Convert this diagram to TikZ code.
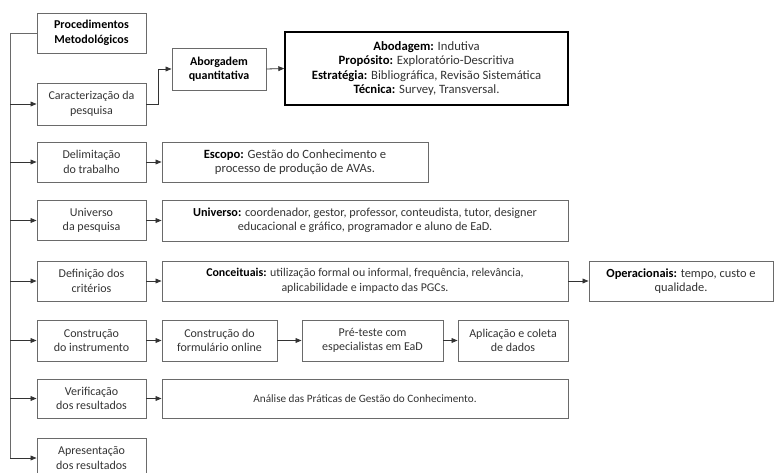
\documentclass[tikz,border=0pt]{standalone}
\usepackage{fontspec}
\setmainfont{Carlito}
\usetikzlibrary{arrows.meta}
\definecolor{boxgray}{HTML}{6A6A6A}
\definecolor{txtgray}{HTML}{333333}
\begin{document}
\begin{tikzpicture}[x=1pt,y=-1pt,
  box/.style={draw=boxgray,line width=0.9pt,rectangle,align=center,
    inner sep=0pt,text=txtgray,font=\fontsize{12}{14.5}\selectfont},
  mainbox/.style={box,draw=black,line width=1.4pt,font=\fontsize{12.7}{14.3}\selectfont},
  link/.style={draw=black!80,line width=0.8pt},
  spinelink/.style={draw=boxgray,line width=0.9pt},
  arr/.style={link,-{Triangle[length=6pt,width=4.8pt]}}]
\useasboundingbox (0,0) rectangle (775,473);
% left column
\node[box,minimum width=109pt,minimum height=40pt] (proc) at (91.5,33)
  {\bfseries\color{black}Procedimentos\\\bfseries\color{black}Metodológicos};
\node[box,minimum width=109pt,minimum height=42pt] (carac) at (91.5,104)
  {Caracterização da\\pesquisa};
\node[box,minimum width=109pt,minimum height=40pt] (delim) at (91.5,162)
  {Delimitação\\do trabalho};
\node[box,minimum width=109pt,minimum height=40pt] (univ) at (91.5,220.5)
  {Universo\\da pesquisa};
\node[box,minimum width=109pt,minimum height=40pt] (defin) at (91.5,281)
  {Definição dos\\critérios};
\node[box,minimum width=109pt,minimum height=41pt] (constr) at (91.5,340.5)
  {Construção\\do instrumento};
\node[box,minimum width=109pt,minimum height=39pt] (verif) at (91.5,398.5)
  {Verificação\\dos resultados};
\node[box,minimum width=109pt,minimum height=40pt] (apres) at (91.5,458)
  {Apresentação\\dos resultados};
% characterisation branch
\node[box,minimum width=94pt,minimum height=42pt] (abord) at (219,69)
  {\bfseries\color{black}Aborgadem\\\bfseries\color{black}quantitativa};
\node[mainbox,minimum width=283pt,minimum height=73pt] (tipo) at (426.5,68.5)
  {\textbf{\color{black}Abodagem:} Indutiva\\
   \textbf{\color{black}Propósito:} Exploratório-Descritiva\\
   \textbf{\color{black}Estratégia:} Bibliográfica, Revisão Sistemática\\
   \textbf{\color{black}Técnica:} Survey, Transversal.};
% second column
\node[box,minimum width=266pt,minimum height=40pt,font=\fontsize{12.6}{14.5}\selectfont] (escopo) at (295,162)
  {\textbf{\color{black}Escopo:} Gestão do Conhecimento e\\processo de produção de AVAs.};
\node[box,minimum width=406pt,minimum height=41pt,font=\fontsize{12.2}{14.5}\selectfont] (atores) at (365,220.5)
  {\textbf{\color{black}Universo:} coordenador, gestor, professor, conteudista, tutor, designer\\
   educacional e gráfico, programador e aluno de EaD.};
\node[box,minimum width=406pt,minimum height=40pt,font=\fontsize{11.9}{14.5}\selectfont] (conc) at (365,281)
  {\textbf{\color{black}Conceituais:} utilização formal ou informal, frequência, relevância,\\
   aplicabilidade e impacto das PGCs.};
\node[box,minimum width=184pt,minimum height=40pt,font=\fontsize{12.4}{14.5}\selectfont] (oper) at (681,281)
  {\textbf{\color{black}Operacionais:} tempo, custo e\\qualidade.};
\node[box,minimum width=115pt,minimum height=41pt] (form) at (219.5,340.5)
  {Construção do\\formulário online};
\node[box,minimum width=141pt,minimum height=41pt] (pre) at (372.5,340.5)
  {Pré-teste com\\especialistas em EaD};
\node[box,minimum width=110pt,minimum height=41pt] (aplic) at (513,340.5)
  {Aplicação e coleta\\de dados};
\node[box,minimum width=406pt,minimum height=39pt,font=\fontsize{11.2}{14.5}\selectfont] (anal) at (365,398.5)
  {Análise das Práticas de Gestão do Conhecimento.};
% spine on the left
\coordinate (spine) at (10,33);
\draw[spinelink] (proc.west) -- (spine) -- (spine |- apres.west);
\foreach \n in {carac,delim,univ,defin,constr,verif,apres}
  \draw[arr] (spine |- \n.west) -- (\n.west);
% row connectors
\draw[arr] (carac.east) -- ++(12,0) |- (abord.west);
\draw[arr] (abord.east) -- (tipo.west);
\draw[arr] (delim.east) -- (escopo.west);
\draw[arr] (univ.east) -- (atores.west);
\draw[arr] (defin.east) -- (conc.west);
\draw[arr] (conc.east) -- (oper.west);
\draw[arr] (constr.east) -- (form.west);
\draw[arr] (form.east) -- (pre.west);
\draw[arr] (pre.east) -- (aplic.west);
\draw[arr] (verif.east) -- (anal.west);
\end{tikzpicture}
\end{document}
